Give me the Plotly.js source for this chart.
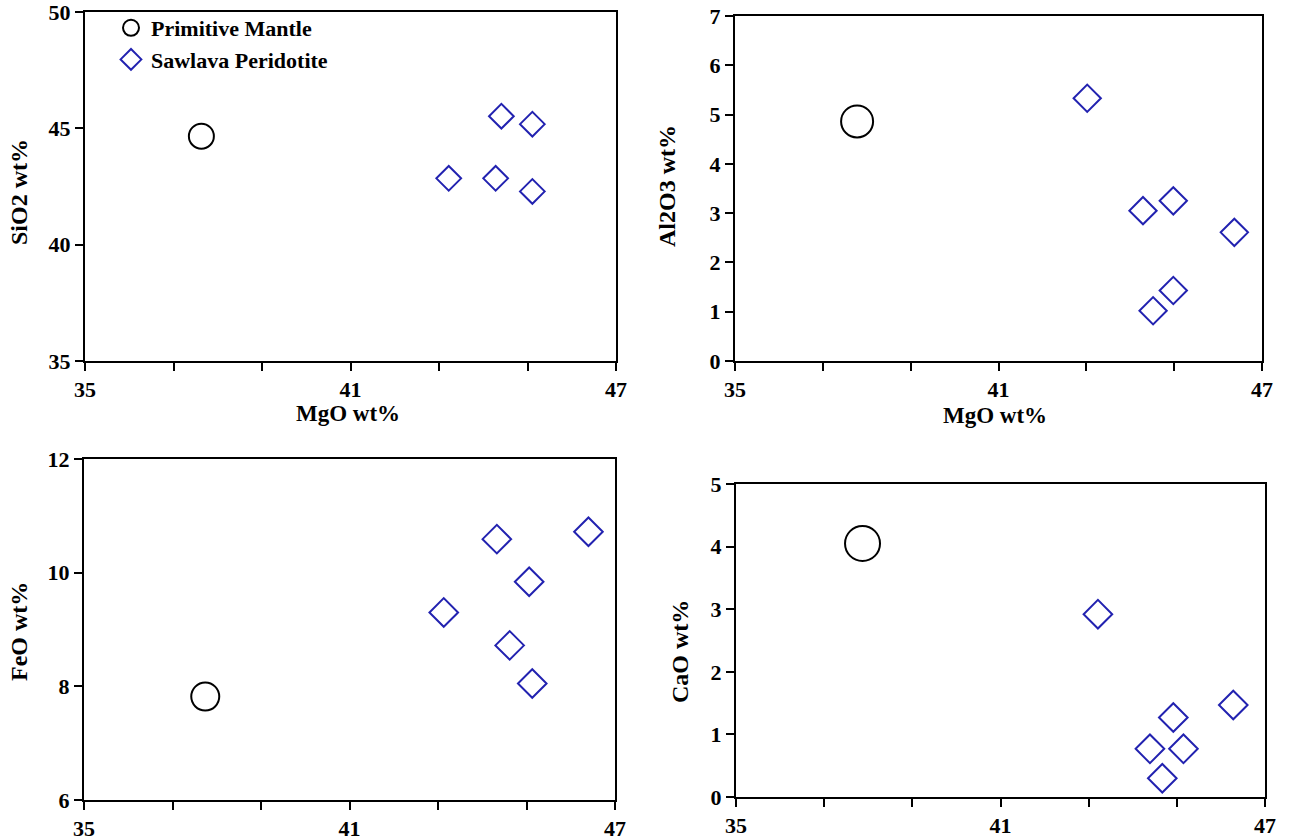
<!DOCTYPE html>
<html>
<head>
<meta charset="utf-8">
<script src="https://cdn.plot.ly/plotly-3.0.1.min.js"></script>
<style>
html, body { margin: 0; padding: 0; background: #ffffff; }
#chart { width: 1293px; height: 838px; }
</style>
</head>
<body>
<div id="chart"></div>
<script>
// ---- Data ----
// Panel A: SiO2 vs MgO
const pmMgO_A = [37.63];
const pmSiO2 = [44.66];
const spMgO_A = [43.22, 44.28, 44.41, 45.11, 45.11];
const spSiO2 = [42.85, 42.85, 45.52, 45.18, 42.29];

// Panel B: Al2O3 vs MgO
const pmMgO_B = [37.78];
const pmAl2O3 = [4.86];
const spMgO_B = [43.02, 44.29, 44.98, 46.37, 44.98, 44.52];
const spAl2O3 = [5.33, 3.05, 3.25, 2.61, 1.43, 1.02];

// Panel C: FeO vs MgO
const pmMgO_C = [37.74];
const pmFeO = [7.82];
const spMgO_C = [43.13, 44.33, 45.06, 44.62, 45.13, 46.40];
const spFeO = [9.30, 10.59, 9.84, 8.72, 8.05, 10.72];

// Panel D: CaO vs MgO
const pmMgO_D = [37.87];
const pmCaO = [4.05];
const spMgO_D = [43.21, 44.92, 46.28, 44.39, 45.15, 44.67];
const spCaO = [2.92, 1.27, 1.47, 0.77, 0.77, 0.30];

const seriesNames = ['Primitive Mantle', 'Sawlava Peridotite'];
const xTickVals = [35, 37, 39, 41, 43, 45, 47];
const xTickText = ['35', '', '', '41', '', '', '47'];
const yTicksA = [35, 40, 45, 50];
const yTicksB = [0, 1, 2, 3, 4, 5, 6, 7];
const yTicksC = [6, 8, 10, 12];
const yTicksD = [0, 1, 2, 3, 4, 5];
const xTitle = 'MgO wt%';
const yTitles = ['SiO2 wt%', 'Al2O3 wt%', 'FeO wt%', 'CaO wt%'];

// ---- Styling ----
const FONT = 'Liberation Serif';
const BLUE = '#2222b0';
const W = 1293, H = 838;
const bold = s => (s === '' ? '' : '<b>' + s + '</b>');

function pm(x, y, xa, ya, size, show) {
  return {
    x: x, y: y, xaxis: xa, yaxis: ya, type: 'scatter', mode: 'markers',
    name: bold(seriesNames[0]), showlegend: show, legendrank: 1,
    marker: { symbol: 'circle-open', size: size, color: '#000000', line: { width: 2, color: '#000000' } },
    hoverinfo: 'x+y'
  };
}
function sp(x, y, xa, ya, size, show) {
  return {
    x: x, y: y, xaxis: xa, yaxis: ya, type: 'scatter', mode: 'markers',
    name: bold(seriesNames[1]), showlegend: show, legendrank: 2,
    marker: { symbol: 'diamond-open', size: size, color: BLUE, line: { width: 2, color: BLUE } },
    hoverinfo: 'x+y'
  };
}

const traces = [
  pm(pmMgO_A, pmSiO2, 'x', 'y', 25, true),
  sp(spMgO_A, spSiO2, 'x', 'y', 19, true),
  pm(pmMgO_B, pmAl2O3, 'x2', 'y2', 32, false),
  sp(spMgO_B, spAl2O3, 'x2', 'y2', 21, false),
  pm(pmMgO_C, pmFeO, 'x3', 'y3', 28, false),
  sp(spMgO_C, spFeO, 'x3', 'y3', 22, false),
  pm(pmMgO_D, pmCaO, 'x4', 'y4', 35, false),
  sp(spMgO_D, spCaO, 'x4', 'y4', 22, false)
];

// panel boxes in pixels: [left, right, top, bottom]
const boxes = [
  [85, 616, 12, 361],
  [735, 1262, 16, 361],
  [84, 615, 459, 800],
  [736, 1265, 484, 797]
];
const yRanges = [[35, 50], [0, 7], [6, 12], [0, 5]];
const yTicks = [yTicksA, yTicksB, yTicksC, yTicksD];
const tickFont = { family: FONT, size: 22, color: '#000', weight: 700 };

function xAxis(i, anchor) {
  const b = boxes[i];
  return {
    domain: [b[0] / W, b[1] / W], anchor: anchor, range: [35, 47],
    tickmode: 'array', tickvals: xTickVals, ticktext: xTickText.map(bold),
    ticks: 'outside', ticklen: 8, tickwidth: 2, tickcolor: '#000',
    showline: true, linecolor: '#000', linewidth: 2, mirror: true,
    showgrid: false, zeroline: false, ticklabeloverflow: 'allow',
    tickfont: tickFont
  };
}
function yAxis(i, anchor) {
  const b = boxes[i];
  return {
    domain: [1 - b[3] / H, 1 - b[2] / H], anchor: anchor, range: yRanges[i],
    tickmode: 'array', tickvals: yTicks[i], ticktext: yTicks[i].map(v => bold(String(v))),
    ticks: 'outside', ticklen: 8, tickwidth: 2, tickcolor: '#000',
    showline: true, linecolor: '#000', linewidth: 2, mirror: true,
    showgrid: false, zeroline: false, ticklabeloverflow: 'allow',
    tickfont: tickFont
  };
}

const xTitleFont = { family: FONT, size: 23, color: '#000', weight: 700 };
const yTitleFont = { family: FONT, size: 24, color: '#000', weight: 700 };
const annotations = [
  { text: bold(xTitle), xref: 'paper', yref: 'paper', x: 348 / W, y: 1 - 414 / H, showarrow: false, font: xTitleFont, xanchor: 'center', yanchor: 'middle' },
  { text: bold(xTitle), xref: 'paper', yref: 'paper', x: 995 / W, y: 1 - 415 / H, showarrow: false, font: xTitleFont, xanchor: 'center', yanchor: 'middle' },
  { text: bold(yTitles[0]), xref: 'paper', yref: 'paper', x: 19 / W, y: 1 - 192 / H, showarrow: false, font: yTitleFont, textangle: -90, xanchor: 'center', yanchor: 'middle' },
  { text: bold(yTitles[1]), xref: 'paper', yref: 'paper', x: 667 / W, y: 1 - 186 / H, showarrow: false, font: yTitleFont, textangle: -90, xanchor: 'center', yanchor: 'middle' },
  { text: bold(yTitles[2]), xref: 'paper', yref: 'paper', x: 19 / W, y: 1 - 632 / H, showarrow: false, font: yTitleFont, textangle: -90, xanchor: 'center', yanchor: 'middle' },
  { text: bold(yTitles[3]), xref: 'paper', yref: 'paper', x: 680 / W, y: 1 - 652 / H, showarrow: false, font: yTitleFont, textangle: -90, xanchor: 'center', yanchor: 'middle' }
];

const layout = {
  width: W, height: H,
  margin: { l: 0, r: 0, t: 0, b: 0 },
  paper_bgcolor: '#ffffff', plot_bgcolor: '#ffffff',
  font: { family: FONT, color: '#000' },
  xaxis: xAxis(0, 'y'), yaxis: yAxis(0, 'x'),
  xaxis2: xAxis(1, 'y2'), yaxis2: yAxis(1, 'x2'),
  xaxis3: xAxis(2, 'y3'), yaxis3: yAxis(2, 'x3'),
  xaxis4: xAxis(3, 'y4'), yaxis4: yAxis(3, 'x4'),
  showlegend: true,
  legend: {
    x: 111 / W, y: 1 - 7 / H, xanchor: 'left', yanchor: 'top',
    bgcolor: 'rgba(0,0,0,0)', borderwidth: 0,
    font: { family: FONT, size: 22, color: '#000', weight: 700 },
    tracegroupgap: 0, itemclick: false
  },
  annotations: annotations
};

Plotly.newPlot('chart', traces, layout, { staticPlot: true, displayModeBar: false });
</script>
</body>
</html>
